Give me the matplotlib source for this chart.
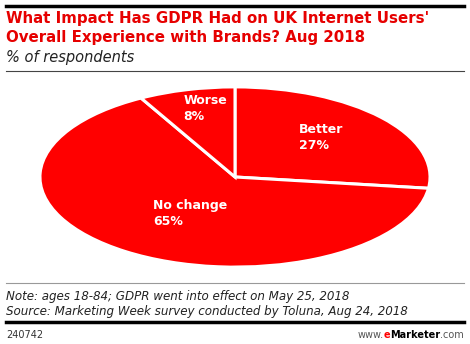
import matplotlib.pyplot as plt

categories = ['Better', 'No change', 'Worse']
shares = [27, 65, 8]
# label anchors (data units of the unit pie), left aligned, vertically centred
label_pos = [(0.33, 0.44), (-0.42, -0.40), (-0.265, 0.76)]

title = "What Impact Has GDPR Had on UK Internet Users'\nOverall Experience with Brands? Aug 2018"
subtitle = '% of respondents'
note = 'Note: ages 18-84; GDPR went into effect on May 25, 2018\nSource: Marketing Week survey conducted by Toluna, Aug 24, 2018'
chart_id = '240742'

W, H = 470, 344
fig = plt.figure(figsize=(W / 100, H / 100), dpi=100)

def fx(px):
    return px / W

def fy(py):
    return 1 - py / H

# pie stretched into an ellipse
ax = fig.add_axes([fx(39), fy(268), fx(431) - fx(39), fy(86) - fy(268)])
ax.pie(shares, startangle=90, counterclock=False, colors=['#ff0000'] * 3,
       wedgeprops=dict(edgecolor='white', linewidth=2.2))
ax.set_aspect('auto')
ax.set_xlim(-1.005, 1.005)
ax.set_ylim(-1.01, 1.01)
ax.axis('off')

for cat, val, (x, y) in zip(categories, shares, label_pos):
    ax.text(x, y, f'{cat}\n{val}%', color='white', fontsize=9, fontweight='bold',
            ha='left', va='center', linespacing=1.3)

# header
fig.add_artist(plt.Line2D([fx(6), fx(464)], [fy(6), fy(6)], color='black', lw=2.5))
fig.text(fx(6), fy(11), title, color='#e60000', fontsize=10.8, fontweight='bold',
         ha='left', va='top', linespacing=1.3)
fig.text(fx(6), fy(50), subtitle, color='#222222', fontsize=10.5, style='italic',
         ha='left', va='top')
fig.add_artist(plt.Line2D([fx(6), fx(464)], [fy(71), fy(71)], color='#444444', lw=0.8))

# footer
fig.add_artist(plt.Line2D([fx(6), fx(464)], [fy(283), fy(283)], color='#999999', lw=0.8))
fig.text(fx(6), fy(290), note, color='#222222', fontsize=8.6, style='italic',
         ha='left', va='top', linespacing=1.2)
fig.add_artist(plt.Line2D([fx(6), fx(464)], [fy(322), fy(322)], color='black', lw=2.5))
fig.text(fx(6), fy(335), chart_id, color='#333333', fontsize=7, ha='left', va='center')

com = fig.text(fx(464), fy(335), '.com', color='#555555', fontsize=7, ha='right', va='center')
mk = fig.text(0, 0, 'Marketer', color='black', fontsize=7, fontweight='bold', ha='right', va='bottom')
e = fig.text(0, 0, 'e', color='#ff0000', fontsize=7, fontweight='bold', ha='right', va='bottom')
www = fig.text(0, 0, 'www.', color='#555555', fontsize=7, ha='right', va='bottom')
fig.canvas.draw()
r = fig.canvas.get_renderer()
inv = fig.transFigure.inverted()
prev = com
for t in [mk, e, www]:
    bb = prev.get_window_extent(r)
    x0, y0 = inv.transform((bb.x0, bb.y0))
    t.set_position((x0, y0))
    prev = t

fig.savefig('out.png', dpi=100)
